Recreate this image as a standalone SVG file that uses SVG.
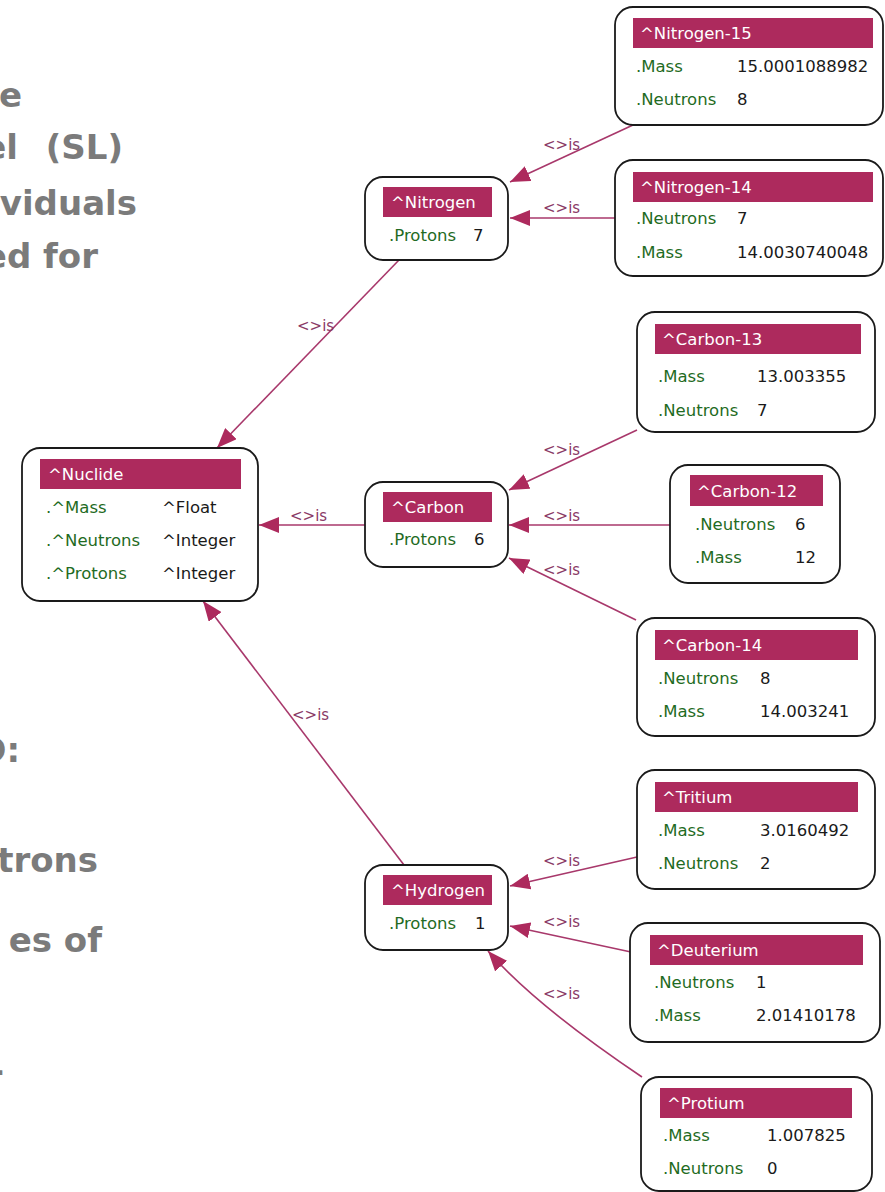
<svg xmlns="http://www.w3.org/2000/svg" width="885" height="1192" viewBox="0 0 885 1192">
  <style>
    .slide { font-family: "DejaVu Sans", "Liberation Sans", sans-serif; font-weight: bold; font-size: 34px; fill: #7b7b7b; }
    .box { fill: #ffffff; stroke: #1a1a1a; stroke-width: 1.8; }
    .hdr { fill: #ad2a5d; }
    .t { font-family: "DejaVu Sans", "Liberation Sans", sans-serif; font-size: 16.5px; }
    .title { fill: #ffffff; }
    .key { fill: #1f6b23; }
    .val { fill: #1a1a1a; }
    .edge { fill: none; stroke: #a8386b; stroke-width: 1.6; }
    .lbl { font-family: "DejaVu Sans", "Liberation Sans", sans-serif; font-size: 15px; fill: #8a3a66; }
  </style>
  <defs>
    <marker id="arr" viewBox="0 0 20 16" refX="20" refY="8" markerWidth="20" markerHeight="16" markerUnits="userSpaceOnUse" orient="auto">
      <path d="M0,0 L20,8 L0,16 z" fill="#ad2a5d"/>
    </marker>
  </defs>

  <rect width="885" height="1192" fill="#ffffff"/>

  <!-- slide text running in from the left edge -->
  <g id="slide-text">
    <text class="slide" x="22" y="107" text-anchor="end">e</text>
    <text class="slide" x="-16.7" y="159" xml:space="preserve">el  <tspan dx="4">(SL)</tspan></text>
    <text class="slide" x="137" y="215" text-anchor="end">viduals</text>
    <text class="slide" x="98" y="268" text-anchor="end">ed for</text>
    <text class="slide" x="20" y="762" text-anchor="end">D:</text>
    <text class="slide" x="98" y="872" text-anchor="end">trons</text>
    <text class="slide" x="102" y="952" text-anchor="end">es of</text>
    <text class="slide" x="4" y="1082" text-anchor="end">-</text>
  </g>

  <!-- connectors -->
  <g id="connectors">
    <line class="edge" x1="633" y1="125" x2="510" y2="182" marker-end="url(#arr)"/>
    <line class="edge" x1="615" y1="218" x2="510" y2="218" marker-end="url(#arr)"/>
    <line class="edge" x1="637" y1="430" x2="509" y2="490" marker-end="url(#arr)"/>
    <line class="edge" x1="670" y1="525" x2="509" y2="525" marker-end="url(#arr)"/>
    <line class="edge" x1="636" y1="620" x2="509" y2="558" marker-end="url(#arr)"/>
    <line class="edge" x1="637" y1="857" x2="510" y2="886" marker-end="url(#arr)"/>
    <line class="edge" x1="631" y1="952" x2="510" y2="926" marker-end="url(#arr)"/>
    <path class="edge" d="M642,1077 Q535,1005 488,951" marker-end="url(#arr)"/>
    <line class="edge" x1="399" y1="260" x2="217" y2="448" marker-end="url(#arr)"/>
    <line class="edge" x1="365" y1="525" x2="259" y2="525" marker-end="url(#arr)"/>
    <line class="edge" x1="404" y1="865" x2="203" y2="601" marker-end="url(#arr)"/>

    <text class="lbl" x="543" y="150">&lt;&gt;is</text>
    <text class="lbl" x="543" y="213">&lt;&gt;is</text>
    <text class="lbl" x="297" y="331">&lt;&gt;is</text>
    <text class="lbl" x="543" y="455">&lt;&gt;is</text>
    <text class="lbl" x="543" y="521">&lt;&gt;is</text>
    <text class="lbl" x="543" y="575">&lt;&gt;is</text>
    <text class="lbl" x="290" y="521">&lt;&gt;is</text>
    <text class="lbl" x="292" y="720">&lt;&gt;is</text>
    <text class="lbl" x="543" y="866">&lt;&gt;is</text>
    <text class="lbl" x="543" y="927">&lt;&gt;is</text>
    <text class="lbl" x="543" y="999">&lt;&gt;is</text>
  </g>

  <!-- class node -->
  <g id="nuclide">
    <rect class="box" x="22" y="448" width="236" height="153" rx="18"/>
    <rect class="hdr" x="40" y="459" width="201" height="30"/>
    <text class="t title" x="48" y="480">^Nuclide</text>
    <text class="t key" x="46" y="513">.^Mass</text>
    <text class="t val" x="162" y="513">^Float</text>
    <text class="t key" x="46" y="546">.^Neutrons</text>
    <text class="t val" x="162" y="546">^Integer</text>
    <text class="t key" x="46" y="579">.^Protons</text>
    <text class="t val" x="162" y="579">^Integer</text>
  </g>

  <!-- element nodes -->
  <g id="nitrogen">
    <rect class="box" x="365" y="177" width="143" height="83" rx="18"/>
    <rect class="hdr" x="383" y="187" width="109" height="30"/>
    <text class="t title" x="391" y="208">^Nitrogen</text>
    <text class="t key" x="389" y="241">.Protons</text>
    <text class="t val" x="473" y="241">7</text>
  </g>
  <g id="carbon">
    <rect class="box" x="365" y="482" width="143" height="85" rx="18"/>
    <rect class="hdr" x="383" y="492" width="109" height="30"/>
    <text class="t title" x="391" y="513">^Carbon</text>
    <text class="t key" x="389" y="545">.Protons</text>
    <text class="t val" x="474" y="545">6</text>
  </g>
  <g id="hydrogen">
    <rect class="box" x="365" y="865" width="143" height="85" rx="18"/>
    <rect class="hdr" x="383" y="875" width="109" height="30"/>
    <text class="t title" x="391" y="896">^Hydrogen</text>
    <text class="t key" x="389" y="929">.Protons</text>
    <text class="t val" x="475" y="929">1</text>
  </g>

  <!-- isotope nodes -->
  <g id="nitrogen-15">
    <rect class="box" x="615" y="7" width="268" height="118" rx="18"/>
    <rect class="hdr" x="633" y="18" width="240" height="30"/>
    <text class="t title" x="640" y="39">^Nitrogen-15</text>
    <text class="t key" x="636" y="72">.Mass</text>
    <text class="t val" x="737" y="72">15.0001088982</text>
    <text class="t key" x="636" y="105">.Neutrons</text>
    <text class="t val" x="737" y="105">8</text>
  </g>
  <g id="nitrogen-14">
    <rect class="box" x="615" y="160" width="268" height="116" rx="18"/>
    <rect class="hdr" x="633" y="172" width="240" height="30"/>
    <text class="t title" x="640" y="193">^Nitrogen-14</text>
    <text class="t key" x="636" y="224">.Neutrons</text>
    <text class="t val" x="737" y="224">7</text>
    <text class="t key" x="636" y="258">.Mass</text>
    <text class="t val" x="737" y="258">14.0030740048</text>
  </g>
  <g id="carbon-13">
    <rect class="box" x="637" y="312" width="238" height="120" rx="18"/>
    <rect class="hdr" x="655" y="324" width="206" height="30"/>
    <text class="t title" x="662" y="345">^Carbon-13</text>
    <text class="t key" x="658" y="382">.Mass</text>
    <text class="t val" x="757" y="382">13.003355</text>
    <text class="t key" x="658" y="416">.Neutrons</text>
    <text class="t val" x="757" y="416">7</text>
  </g>
  <g id="carbon-12">
    <rect class="box" x="670" y="465" width="170" height="118" rx="18"/>
    <rect class="hdr" x="690" y="475" width="133" height="31"/>
    <text class="t title" x="697" y="497">^Carbon-12</text>
    <text class="t key" x="695" y="530">.Neutrons</text>
    <text class="t val" x="795" y="530">6</text>
    <text class="t key" x="695" y="563">.Mass</text>
    <text class="t val" x="795" y="563">12</text>
  </g>
  <g id="carbon-14">
    <rect class="box" x="637" y="618" width="238" height="118" rx="18"/>
    <rect class="hdr" x="655" y="630" width="203" height="30"/>
    <text class="t title" x="662" y="651">^Carbon-14</text>
    <text class="t key" x="658" y="684">.Neutrons</text>
    <text class="t val" x="760" y="684">8</text>
    <text class="t key" x="658" y="717">.Mass</text>
    <text class="t val" x="760" y="717">14.003241</text>
  </g>
  <g id="tritium">
    <rect class="box" x="637" y="770" width="238" height="119" rx="18"/>
    <rect class="hdr" x="655" y="782" width="203" height="30"/>
    <text class="t title" x="662" y="803">^Tritium</text>
    <text class="t key" x="658" y="836">.Mass</text>
    <text class="t val" x="760" y="836">3.0160492</text>
    <text class="t key" x="658" y="869">.Neutrons</text>
    <text class="t val" x="760" y="869">2</text>
  </g>
  <g id="deuterium">
    <rect class="box" x="630" y="923" width="250" height="119" rx="18"/>
    <rect class="hdr" x="650" y="935" width="213" height="30"/>
    <text class="t title" x="657" y="956">^Deuterium</text>
    <text class="t key" x="654" y="988">.Neutrons</text>
    <text class="t val" x="756" y="988">1</text>
    <text class="t key" x="654" y="1021">.Mass</text>
    <text class="t val" x="756" y="1021">2.01410178</text>
  </g>
  <g id="protium">
    <rect class="box" x="641" y="1077" width="231" height="114" rx="18"/>
    <rect class="hdr" x="660" y="1088" width="192" height="30"/>
    <text class="t title" x="667" y="1109">^Protium</text>
    <text class="t key" x="663" y="1141">.Mass</text>
    <text class="t val" x="767" y="1141">1.007825</text>
    <text class="t key" x="663" y="1174">.Neutrons</text>
    <text class="t val" x="767" y="1174">0</text>
  </g>
</svg>
